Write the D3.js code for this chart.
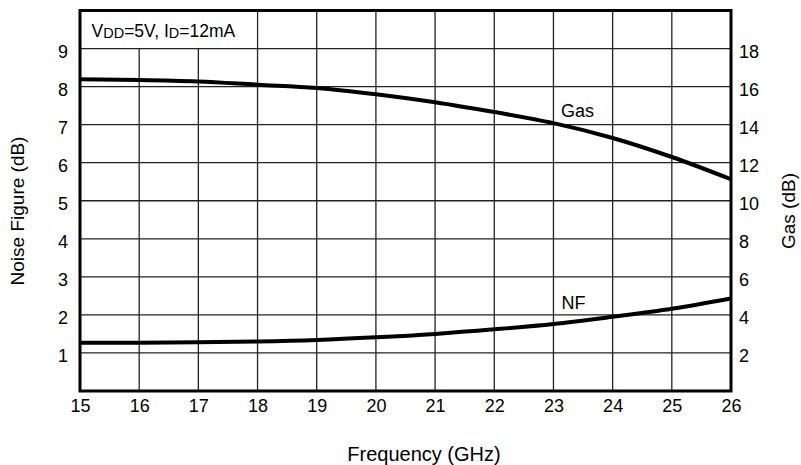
<!DOCTYPE html>
<html><head><meta charset="utf-8">
<script src="https://cdn.jsdelivr.net/npm/d3@7"></script>
<style>body{margin:0;background:#fff}svg{display:block}text{font-family:"Liberation Sans",Arial,sans-serif;fill:#000}</style>
</head><body>
<svg id="c" width="801" height="465"></svg>
<script>
const freq = [15,16,17,18,19,20,21,22,23,24,25,26];
const gas  = [16.38,16.35,16.27,16.1,15.93,15.6,15.18,14.66,14.08,13.3,12.3,11.13];
const nf   = [1.27,1.27,1.28,1.30,1.34,1.41,1.50,1.62,1.76,1.95,2.16,2.43];
const xTicks = [15,16,17,18,19,20,21,22,23,24,25,26];
const leftTicks = [1,2,3,4,5,6,7,8,9];
const rightTicks = [2,4,6,8,10,12,14,16,18];

const svg = d3.select("#c");
const x = d3.scaleLinear().domain([15,26]).range([80,731]);
const yL = d3.scaleLinear().domain([0,10]).range([391,10.5]);
const yR = d3.scaleLinear().domain([0,20]).range([391,10.5]);

// vertical grid
svg.append("g").selectAll("line").data(xTicks.slice(1,-1)).join("line")
  .attr("x1",d=>x(d)).attr("x2",d=>x(d)).attr("y1",yL(0)).attr("y2",yL(10))
  .attr("stroke","#222").attr("stroke-width",1.3);
// annotation box background
svg.append("rect").attr("x",x(15)).attr("y",yL(10)).attr("width",x(18)-x(15)-1).attr("height",yL(9)-yL(10))
  .attr("fill","#fff");
// horizontal grid
svg.append("g").selectAll("line").data(leftTicks).join("line")
  .attr("x1",x(15)).attr("x2",x(26)).attr("y1",d=>yL(d)).attr("y2",d=>yL(d))
  .attr("stroke","#222").attr("stroke-width",1.3);

// curves
const lineG = d3.line().x((d,i)=>x(freq[i])).y(d=>yR(d)).curve(d3.curveMonotoneX);
const lineN = d3.line().x((d,i)=>x(freq[i])).y(d=>yL(d)).curve(d3.curveMonotoneX);
svg.append("path").attr("d",lineG(gas)).attr("fill","none").attr("stroke","#000").attr("stroke-width",4);
svg.append("path").attr("d",lineN(nf)).attr("fill","none").attr("stroke","#000").attr("stroke-width",4);

// frame
svg.append("rect").attr("x",x(15)).attr("y",yL(10)).attr("width",x(26)-x(15)).attr("height",yL(0)-yL(10))
  .attr("fill","none").attr("stroke","#000").attr("stroke-width",3);

// axes using d3 axis generators (tick marks hidden)
const fs = "18px";
const gx = svg.append("g").attr("transform",`translate(0,${yL(0)})`)
  .call(d3.axisBottom(x).tickValues(xTicks).tickSize(0).tickPadding(0).tickFormat(d3.format("d")));
gx.select(".domain").remove();
gx.selectAll("text").attr("dy",null).attr("y",20.5).attr("font-size",fs).attr("font-family",null);

const gl = svg.append("g").attr("transform",`translate(${x(15)},0)`)
  .call(d3.axisLeft(yL).tickValues(leftTicks).tickSize(0).tickPadding(0).tickFormat(d3.format("d")));
gl.select(".domain").remove();
gl.selectAll("text").attr("dy",null).attr("x",-12).attr("y",8.5).attr("font-size",fs).attr("font-family",null);

const gr = svg.append("g").attr("transform",`translate(${x(26)},0)`)
  .call(d3.axisRight(yR).tickValues(rightTicks).tickSize(0).tickPadding(0).tickFormat(d3.format("d")));
gr.select(".domain").remove();
gr.selectAll("text").attr("dy",null).attr("x",8).attr("y",8.5).attr("font-size",fs).attr("font-family",null);

// axis titles
svg.append("text").attr("transform","translate(24,211) rotate(-90)").attr("text-anchor","middle")
  .attr("font-size","19px").text("Noise Figure (dB)");
svg.append("text").attr("transform","translate(795,211) rotate(-90)").attr("text-anchor","middle")
  .attr("font-size","19px").text("Gas (dB)");
svg.append("text").attr("x",424).attr("y",461).attr("text-anchor","middle")
  .attr("font-size","20px").text("Frequency (GHz)");

// series labels
svg.append("text").attr("x",561).attr("y",117).attr("font-size","18px").text("Gas");
svg.append("text").attr("x",561.5).attr("y",309).attr("font-size","18px").text("NF");

// condition note
const t = svg.append("text").attr("x",91.5).attr("y",36.7).attr("font-size","17.5px");
t.append("tspan").text("V");
t.append("tspan").attr("font-size","14.5px").attr("dy",1.5).text("DD");
t.append("tspan").attr("dy",-1.5).text("=5V, I");
t.append("tspan").attr("font-size","14.5px").attr("dy",1.5).text("D");
t.append("tspan").attr("dy",-1.5).text("=12mA");
</script>
</body></html>
